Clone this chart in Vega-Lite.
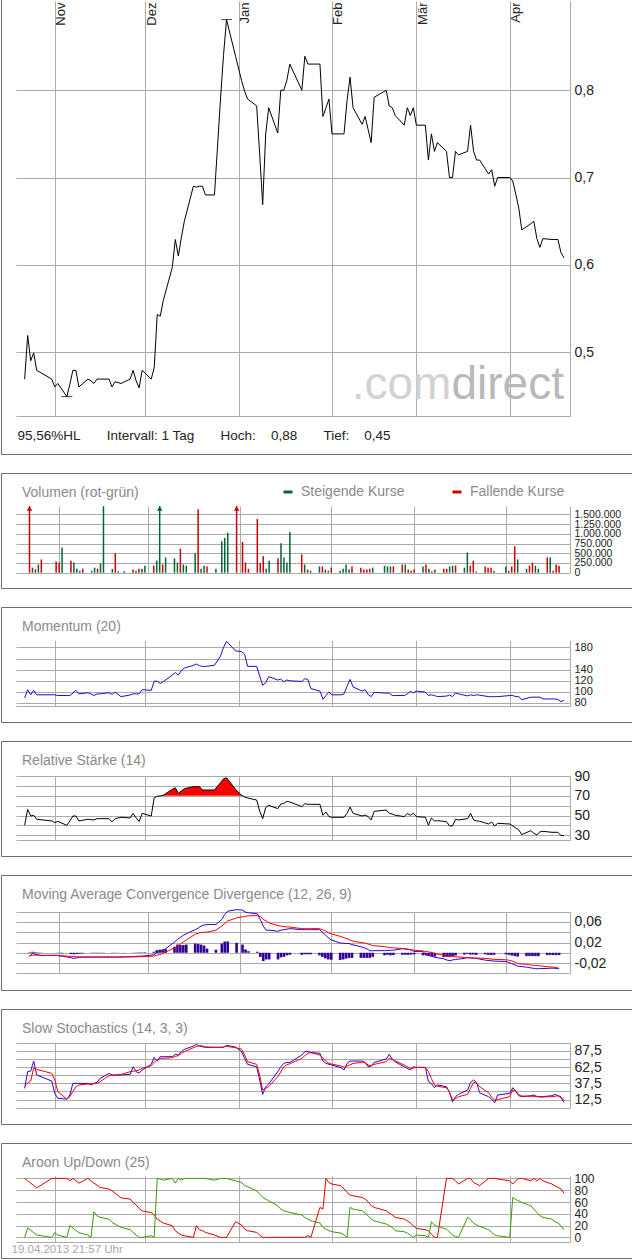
{
"$schema": "https://vega.github.io/schema/vega-lite/v6.json",
"padding": {"left": 0, "top": -2, "right": 0, "bottom": 0},
"background": "white",
"spacing": 19,
"bounds": "flush",
"resolve": {"scale": {"color": "independent"}, "legend": {"color": "independent"}},
"datasets": {
"hl": [{"d":"2012-11-05","p":0.449},{"d":"2012-12-28","p":0.881}],
"s": [
{"d":"2012-10-22","p":0.469,"v":2500000,"c":"dn","m":88.7,"r":40.1,"md":-0.0078,"sg":-0.005,"h":0.001,"k":29.7,"kd":33.8,"au":0,"ad":100},
{"d":"2012-10-23","p":0.519,"v":130000,"c":"up","m":103.6,"r":56.3,"md":-0.0013,"sg":-0.0049,"h":0.002,"k":55.4,"kd":38,"au":16,"ad":96},
{"d":"2012-10-24","p":0.49,"v":87000,"c":"dn","m":94.3,"r":49.5,"md":-0.003,"sg":-0.0048,"h":0.0012,"k":56.4,"kd":41,"au":12,"ad":92},
{"d":"2012-10-25","p":0.499,"v":210000,"c":"up","m":102.4,"r":50.2,"md":-0.004,"sg":-0.0047,"h":0.0008,"k":71.8,"kd":61.5,"au":8,"ad":88},
{"d":"2012-10-26","p":0.479,"v":340000,"c":"dn","m":94.3,"r":46.2,"md":-0.0055,"sg":-0.005,"h":-0.0005,"k":50.3,"kd":59,"au":4,"ad":84},
{"d":"2012-10-31","p":0.469,"v":290000,"c":"dn","m":94.3,"r":44.5,"md":-0.005,"sg":-0.0052,"h":0.0003,"k":41,"kd":52.8,"au":0,"ad":100},
{"d":"2012-11-01","p":0.46,"v":260000,"c":"dn","m":94.3,"r":42.8,"md":-0.006,"sg":-0.0055,"h":-0.0006,"k":22,"kd":42.6,"au":8,"ad":100},
{"d":"2012-11-02","p":0.464,"v":650000,"c":"up","m":93,"r":44,"md":-0.0065,"sg":-0.0058,"h":-0.0008,"k":14.4,"kd":24.6,"au":4,"ad":100},
{"d":"2012-11-05","p":0.449,"v":310000,"c":"dn","m":93,"r":40.1,"md":-0.0097,"sg":-0.007,"h":-0.0027,"k":13.3,"kd":13.3,"au":0,"ad":100},
{"d":"2012-11-06","p":0.463,"v":260000,"c":"up","m":93,"r":44.5,"md":-0.011,"sg":-0.0075,"h":-0.003,"k":19.5,"kd":16.9,"au":20,"ad":96},
{"d":"2012-11-07","p":0.479,"v":100000,"c":"up","m":97.4,"r":49.5,"md":-0.01,"sg":-0.0078,"h":-0.0025,"k":37.4,"kd":25,"au":16,"ad":100},
{"d":"2012-11-08","p":0.479,"v":50000,"c":"up","m":102.4,"r":49.5,"md":-0.009,"sg":-0.008,"h":-0.0018,"k":37.4,"kd":32.3,"au":12,"ad":96},
{"d":"2012-11-09","p":0.46,"v":100000,"c":"dn","m":96,"r":44.5,"md":-0.0085,"sg":-0.0082,"h":-0.0012,"k":37.4,"kd":35,"au":8,"ad":92},
{"d":"2012-11-12","p":0.469,"v":50000,"c":"up","m":98,"r":46.2,"md":-0.0084,"sg":-0.0082,"h":-0.0005,"k":37.4,"kd":36.4,"au":4,"ad":100},
{"d":"2012-11-13","p":0.467,"v":130000,"c":"up","m":96,"r":45.8,"md":-0.0084,"sg":-0.0082,"h":-0.0005,"k":35,"kd":36.8,"au":0,"ad":96},
{"d":"2012-11-14","p":0.464,"v":100000,"c":"dn","m":93,"r":45.5,"md":-0.0084,"sg":-0.0082,"h":-0.0008,"k":37.4,"kd":37,"au":43.5,"ad":92},
{"d":"2012-11-15","p":0.469,"v":235000,"c":"up","m":96,"r":46.8,"md":-0.0084,"sg":-0.0082,"h":-0.0005,"k":39,"kd":37.5,"au":36.7,"ad":88.7},
{"d":"2012-11-16","p":0.469,"v":1710000,"c":"up","m":96,"r":46.8,"md":-0.0084,"sg":-0.0082,"h":-0.0005,"k":45,"kd":40,"au":33.9,"ad":84.7},
{"d":"2012-11-19","p":0.469,"v":100000,"c":"up","m":98,"r":46.8,"md":-0.0084,"sg":-0.0082,"h":-0.0004,"k":52.8,"kd":49.2,"au":31,"ad":82},
{"d":"2012-11-20","p":0.46,"v":500000,"c":"dn","m":95,"r":43.5,"md":-0.0084,"sg":-0.0082,"h":-0.0004,"k":50.3,"kd":50,"au":25.4,"ad":79},
{"d":"2012-11-21","p":0.466,"v":35000,"c":"up","m":99.3,"r":46.8,"md":-0.0084,"sg":-0.0082,"h":-0.0003,"k":50.3,"kd":50,"au":22.6,"ad":75},
{"d":"2012-11-23","p":0.464,"v":35000,"c":"up","m":91,"r":48.2,"md":-0.008,"sg":-0.0081,"h":0.0002,"k":50.3,"kd":51,"au":17,"ad":67},
{"d":"2012-11-26","p":0.469,"v":80000,"c":"dn","m":94,"r":47.5,"md":-0.0075,"sg":-0.008,"h":0.0004,"k":51.3,"kd":55.4,"au":13,"ad":65},
{"d":"2012-11-27","p":0.479,"v":50000,"c":"up","m":96,"r":52.2,"md":-0.007,"sg":-0.0078,"h":0.0005,"k":63,"kd":56,"au":8.5,"ad":59},
{"d":"2012-11-28","p":0.467,"v":100000,"c":"dn","m":96,"r":47.5,"md":-0.0066,"sg":-0.0076,"h":0.0008,"k":55.4,"kd":57,"au":4,"ad":55},
{"d":"2012-11-29","p":0.459,"v":100000,"c":"up","m":96,"r":44,"md":-0.0065,"sg":-0.0074,"h":0.0008,"k":53.3,"kd":58,"au":0,"ad":49},
{"d":"2012-11-30","p":0.479,"v":180000,"c":"up","m":103.6,"r":52.2,"md":-0.006,"sg":-0.0072,"h":0.001,"k":58,"kd":60.5,"au":0,"ad":45},
{"d":"2012-12-03","p":0.469,"v":180000,"c":"dn","m":102.4,"r":49.5,"md":-0.004,"sg":-0.0065,"h":0.002,"k":66.7,"kd":64.6,"au":2.8,"ad":42},
{"d":"2012-12-04","p":0.482,"v":310000,"c":"up","m":119,"r":68,"md":0,"sg":-0.005,"h":0.005,"k":77.4,"kd":70,"au":0,"ad":37.9},
{"d":"2012-12-05","p":0.543,"v":2200000,"c":"up","m":119,"r":69.5,"md":0.0025,"sg":-0.0035,"h":0.006,"k":71.8,"kd":73.3,"au":100,"ad":31,"rh":70},
{"d":"2012-12-06","p":0.541,"v":210000,"c":"dn","m":114.8,"r":69.8,"md":0.0045,"sg":-0.0015,"h":0.0065,"k":78.5,"kd":75.9,"au":98.9,"ad":27.7,"rh":70},
{"d":"2012-12-07","p":0.559,"v":390000,"c":"up","m":118,"r":70.5,"md":0.0078,"sg":0.001,"h":0.007,"k":78.5,"kd":76,"au":97,"ad":24.3,"rh":70.5},
{"d":"2012-12-10","p":0.597,"v":370000,"c":"up","m":130,"r":76.5,"md":0.0208,"sg":0.0097,"h":0.0115,"k":78.5,"kd":76.9,"au":100,"ad":19.8,"rh":76.5},
{"d":"2012-12-11","p":0.629,"v":260000,"c":"up","m":134.6,"r":78.1,"md":0.026,"sg":0.013,"h":0.016,"k":82,"kd":79,"au":92,"ad":11.3,"rh":78.1},
{"d":"2012-12-12","p":0.61,"v":620000,"c":"dn","m":130,"r":72.4,"md":0.03,"sg":0.017,"h":0.015,"k":81,"kd":80,"au":100,"ad":7.3,"rh":72.4},
{"d":"2012-12-13","p":0.631,"v":210000,"c":"up","m":138.4,"r":74.8,"md":0.034,"sg":0.021,"h":0.015,"k":86.2,"kd":83.6,"au":97,"ad":4,"rh":74.8},
{"d":"2012-12-14","p":0.65,"v":180000,"c":"up","m":142.7,"r":77.1,"md":0.037,"sg":0.025,"h":0.016,"k":89.7,"kd":86.2,"au":100,"ad":2.8,"rh":77.1},
{"d":"2012-12-17","p":0.69,"v":500000,"c":"up","m":147.7,"r":79.2,"md":0.045,"sg":0.036,"h":0.018,"k":94.9,"kd":92.3,"au":100,"ad":0,"rh":79.2},
{"d":"2012-12-18","p":0.689,"v":1630000,"c":"dn","m":150,"r":79.2,"md":0.048,"sg":0.038,"h":0.017,"k":97.4,"kd":94,"au":100,"ad":19.8,"rh":79.2},
{"d":"2012-12-19","p":0.69,"v":100000,"c":"up","m":147,"r":79.2,"md":0.052,"sg":0.0395,"h":0.016,"k":94.9,"kd":95.4,"au":100,"ad":13,"rh":79.2},
{"d":"2012-12-20","p":0.69,"v":180000,"c":"up","m":145.8,"r":75.8,"md":0.054,"sg":0.04,"h":0.014,"k":93.8,"kd":95,"au":100,"ad":11.3,"rh":75.8},
{"d":"2012-12-21","p":0.68,"v":160000,"c":"dn","m":145.8,"r":75.8,"md":0.055,"sg":0.04,"h":0.008,"k":92.8,"kd":93.5,"au":100,"ad":8.5,"rh":75.8},
{"d":"2012-12-24","p":0.68,"v":100000,"c":"up","m":147.7,"r":75.8,"md":0.055,"sg":0.044,"h":0.006,"k":92.8,"kd":93,"au":97,"ad":4,"rh":75.8},
{"d":"2012-12-26","p":0.79,"v":810000,"c":"up","m":164.5,"r":83.2,"md":0.065,"sg":0.052,"h":0.018,"k":92.8,"kd":93,"au":100,"ad":0,"rh":83.2},
{"d":"2012-12-27","p":0.84,"v":890000,"c":"up","m":180,"r":87.2,"md":0.0746,"sg":0.057,"h":0.022,"k":92.8,"kd":93.5,"au":100,"ad":0,"rh":87.2},
{"d":"2012-12-28","p":0.881,"v":1030000,"c":"up","m":191,"r":88.2,"md":0.081,"sg":0.062,"h":0.022,"k":95.9,"kd":94.4,"au":100,"ad":0,"rh":88.2},
{"d":"2012-12-31","p":0.839,"v":2000000,"c":"dn","m":173.8,"r":76.5,"md":0.084,"sg":0.068,"h":0.0195,"k":93.3,"kd":92.3,"au":96,"ad":26.6,"rh":76.5},
{"d":"2013-01-02","p":0.811,"v":790000,"c":"dn","m":172.5,"r":70.4,"md":0.083,"sg":0.07,"h":0.016,"k":86.2,"kd":90.3,"au":93,"ad":21,"rh":70.4},
{"d":"2013-01-03","p":0.799,"v":260000,"c":"dn","m":167.6,"r":68.7,"md":0.079,"sg":0.071,"h":0.0065,"k":75.9,"kd":81,"au":88,"ad":14,"rh":70},
{"d":"2013-01-04","p":0.79,"v":100000,"c":"dn","m":145.8,"r":67.7,"md":0.078,"sg":0.072,"h":0.003,"k":66.7,"kd":70.8,"au":86,"ad":11.3},
{"d":"2013-01-07","p":0.782,"v":1380000,"c":"dn","m":145.8,"r":65.7,"md":0.076,"sg":0.0725,"h":0.002,"k":63,"kd":66.7,"au":79,"ad":8.5},
{"d":"2013-01-08","p":0.727,"v":245000,"c":"dn","m":128.4,"r":54.6,"md":0.065,"sg":0.071,"h":-0.008,"k":42.6,"kd":50,"au":73.4,"ad":4},
{"d":"2013-01-09","p":0.669,"v":420000,"c":"dn","m":111.7,"r":46.8,"md":0.052,"sg":0.065,"h":-0.016,"k":20.5,"kd":27.2,"au":67.8,"ad":0},
{"d":"2013-01-10","p":0.75,"v":100000,"c":"up","m":116,"r":58,"md":0.044,"sg":0.062,"h":-0.013,"k":32.3,"kd":29.7,"au":65,"ad":0},
{"d":"2013-01-11","p":0.78,"v":310000,"c":"up","m":127.2,"r":60.3,"md":0.044,"sg":0.058,"h":-0.013,"k":36.4,"kd":32.3,"au":62,"ad":0},
{"d":"2013-01-14","p":0.751,"v":370000,"c":"dn","m":121,"r":57,"md":0.042,"sg":0.053,"h":-0.013,"k":55.4,"kd":47.7,"au":53.7,"ad":0},
{"d":"2013-01-15","p":0.8,"v":760000,"c":"up","m":122.9,"r":61.6,"md":0.044,"sg":0.052,"h":-0.009,"k":63,"kd":55,"au":48,"ad":0},
{"d":"2013-01-16","p":0.8,"v":390000,"c":"up","m":118,"r":62.3,"md":0.045,"sg":0.051,"h":-0.008,"k":68.2,"kd":63,"au":45.2,"ad":0},
{"d":"2013-01-17","p":0.811,"v":260000,"c":"up","m":121,"r":64.3,"md":0.046,"sg":0.0505,"h":-0.005,"k":69.7,"kd":66,"au":43.5,"ad":0},
{"d":"2013-01-18","p":0.83,"v":1050000,"c":"up","m":119.7,"r":63.7,"md":0.047,"sg":0.05,"h":-0.004,"k":69.7,"kd":67.7,"au":42.4,"ad":0},
{"d":"2013-01-22","p":0.8,"v":470000,"c":"dn","m":118.5,"r":59,"md":0.045,"sg":0.047,"h":-0.004,"k":81,"kd":75.9,"au":37.9,"ad":0},
{"d":"2013-01-23","p":0.839,"v":210000,"c":"up","m":123.5,"r":62,"md":0.045,"sg":0.047,"h":-0.003,"k":86.2,"kd":80,"au":33.9,"ad":0},
{"d":"2013-01-24","p":0.83,"v":80000,"c":"dn","m":122,"r":61.3,"md":0.045,"sg":0.047,"h":-0.003,"k":86.2,"kd":83.6,"au":31,"ad":2.8},
{"d":"2013-01-25","p":0.83,"v":50000,"c":"up","m":105.5,"r":61.3,"md":0.045,"sg":0.047,"h":-0.003,"k":85.1,"kd":84.6,"au":28.2,"ad":0},
{"d":"2013-01-28","p":0.83,"v":160000,"c":"up","m":101,"r":61.3,"md":0.045,"sg":0.047,"h":-0.005,"k":83.6,"kd":81,"au":24.3,"ad":50.8},
{"d":"2013-01-29","p":0.77,"v":160000,"c":"dn","m":86.2,"r":50.2,"md":0.04,"sg":0.045,"h":-0.008,"k":71.8,"kd":75.9,"au":17,"ad":48},
{"d":"2013-01-30","p":0.78,"v":80000,"c":"up","m":93,"r":53.6,"md":0.035,"sg":0.043,"h":-0.011,"k":68.2,"kd":72,"au":14,"ad":100},
{"d":"2013-01-31","p":0.79,"v":50000,"c":"up","m":99.3,"r":48.9,"md":0.029,"sg":0.039,"h":-0.013,"k":66.7,"kd":68.2,"au":11.3,"ad":93},
{"d":"2013-02-01","p":0.75,"v":130000,"c":"dn","m":94.3,"r":48.2,"md":0.025,"sg":0.037,"h":-0.0135,"k":65.6,"kd":67,"au":9.6,"ad":90.4},
{"d":"2013-02-04","p":0.75,"v":50000,"c":"up","m":94.3,"r":48.2,"md":0.019,"sg":0.032,"h":-0.014,"k":61.5,"kd":64.1,"au":7.3,"ad":87.6},
{"d":"2013-02-05","p":0.75,"v":100000,"c":"up","m":96,"r":48.2,"md":0.0185,"sg":0.03,"h":-0.013,"k":58,"kd":62,"au":4,"ad":82},
{"d":"2013-02-06","p":0.788,"v":210000,"c":"up","m":109.8,"r":52.2,"md":0.0182,"sg":0.028,"h":-0.0115,"k":68.2,"kd":64,"au":0,"ad":76.3},
{"d":"2013-02-07","p":0.815,"v":80000,"c":"up","m":122.2,"r":58.6,"md":0.018,"sg":0.026,"h":-0.01,"k":71.8,"kd":66,"au":50.8,"ad":71.8},
{"d":"2013-02-08","p":0.78,"v":160000,"c":"dn","m":108.6,"r":52.2,"md":0.016,"sg":0.023,"h":-0.01,"k":71.8,"kd":68,"au":48,"ad":70.6},
{"d":"2013-02-11","p":0.761,"v":130000,"c":"dn","m":101,"r":49.5,"md":0.0117,"sg":0.02,"h":-0.01,"k":71.8,"kd":70,"au":45.2,"ad":67.8},
{"d":"2013-02-12","p":0.77,"v":80000,"c":"dn","m":103.6,"r":50.5,"md":0.01,"sg":0.019,"h":-0.01,"k":69.7,"kd":69.7,"au":41.2,"ad":65},
{"d":"2013-02-13","p":0.755,"v":80000,"c":"dn","m":95,"r":48.9,"md":0.0078,"sg":0.018,"h":-0.01,"k":63,"kd":65.6,"au":36.7,"ad":60.5},
{"d":"2013-02-14","p":0.74,"v":100000,"c":"dn","m":91,"r":45.5,"md":0.0039,"sg":0.016,"h":-0.01,"k":64,"kd":64.5,"au":31,"ad":53.7},
{"d":"2013-02-15","p":0.792,"v":130000,"c":"up","m":98.6,"r":54.2,"md":0.004,"sg":0.014,"h":-0.008,"k":69.7,"kd":66.7,"au":28.2,"ad":50.8},
{"d":"2013-02-19","p":0.8,"v":180000,"c":"up","m":97.4,"r":55.6,"md":0.0042,"sg":0.012,"h":-0.005,"k":74.9,"kd":70.8,"au":22.6,"ad":45.2},
{"d":"2013-02-20","p":0.782,"v":160000,"c":"up","m":97.4,"r":52.2,"md":0.0045,"sg":0.011,"h":-0.004,"k":82,"kd":75.9,"au":19.8,"ad":41.2},
{"d":"2013-02-21","p":0.78,"v":160000,"c":"up","m":93,"r":51.5,"md":0.0048,"sg":0.01,"h":-0.005,"k":74.9,"kd":74,"au":17,"ad":37.9},
{"d":"2013-02-22","p":0.771,"v":160000,"c":"dn","m":93,"r":50.2,"md":0.005,"sg":0.0095,"h":-0.0045,"k":70.5,"kd":72,"au":11.3,"ad":33.9},
{"d":"2013-02-25","p":0.76,"v":210000,"c":"dn","m":93,"r":48.9,"md":0.0078,"sg":0.0084,"h":-0.004,"k":63,"kd":65.6,"au":9.6,"ad":31},
{"d":"2013-02-26","p":0.78,"v":210000,"c":"up","m":96,"r":52.2,"md":0.0076,"sg":0.0075,"h":-0.004,"k":60.5,"kd":63,"au":7.3,"ad":28.2},
{"d":"2013-02-27","p":0.771,"v":80000,"c":"dn","m":100.5,"r":50.2,"md":0.007,"sg":0.0065,"h":-0.004,"k":58,"kd":60.5,"au":4,"ad":24.3},
{"d":"2013-02-28","p":0.78,"v":50000,"c":"dn","m":98,"r":52.2,"md":0.005,"sg":0.0058,"h":-0.0035,"k":63,"kd":61,"au":0,"ad":19.8},
{"d":"2013-03-01","p":0.76,"v":80000,"c":"dn","m":101,"r":48.9,"md":0.0026,"sg":0.005,"h":-0.003,"k":62,"kd":62,"au":4,"ad":15.3},
{"d":"2013-03-04","p":0.76,"v":160000,"c":"up","m":99.3,"r":48.2,"md":0.0026,"sg":0.0035,"h":-0.005,"k":62,"kd":62,"au":2.8,"ad":13},
{"d":"2013-03-05","p":0.72,"v":210000,"c":"dn","m":93,"r":40.1,"md":-0.004,"sg":0.0026,"h":-0.005,"k":40,"kd":55.4,"au":0,"ad":11.3},
{"d":"2013-03-06","p":0.75,"v":100000,"c":"up","m":94.3,"r":47.5,"md":-0.005,"sg":0.0015,"h":-0.0065,"k":37,"kd":45,"au":26.6,"ad":5.6},
{"d":"2013-03-07","p":0.73,"v":30000,"c":"dn","m":93,"r":44.5,"md":-0.0065,"sg":0.0005,"h":-0.0075,"k":30.8,"kd":34.9,"au":21,"ad":0},
{"d":"2013-03-08","p":0.74,"v":80000,"c":"up","m":91,"r":44.8,"md":-0.009,"sg":-0.0013,"h":-0.0075,"k":34.9,"kd":33,"au":18.6,"ad":0},
{"d":"2013-03-11","p":0.73,"v":100000,"c":"dn","m":92,"r":43.8,"md":-0.0117,"sg":-0.005,"h":-0.0085,"k":32.3,"kd":30.8,"au":14,"ad":100},
{"d":"2013-03-12","p":0.7,"v":100000,"c":"dn","m":94,"r":39.4,"md":-0.014,"sg":-0.006,"h":-0.008,"k":23.6,"kd":24.6,"au":9.6,"ad":100},
{"d":"2013-03-13","p":0.7,"v":160000,"c":"up","m":91,"r":39.4,"md":-0.0156,"sg":-0.007,"h":-0.008,"k":9.2,"kd":11.8,"au":4,"ad":100},
{"d":"2013-03-14","p":0.73,"v":180000,"c":"up","m":97.4,"r":46.2,"md":-0.014,"sg":-0.0075,"h":-0.0065,"k":16.9,"kd":14,"au":1.7,"ad":96},
{"d":"2013-03-15","p":0.726,"v":180000,"c":"dn","m":96,"r":45.5,"md":-0.013,"sg":-0.0078,"h":-0.0055,"k":20.5,"kd":16.9,"au":0,"ad":90.4},
{"d":"2013-03-18","p":0.73,"v":130000,"c":"up","m":92.4,"r":46.8,"md":-0.011,"sg":-0.009,"h":-0.0035,"k":27.2,"kd":20.5,"au":33.9,"ad":100},
{"d":"2013-03-19","p":0.76,"v":520000,"c":"up","m":94.3,"r":52.2,"md":-0.0097,"sg":-0.0095,"h":-0.002,"k":39,"kd":30,"au":29.9,"ad":100},
{"d":"2013-03-20","p":0.73,"v":180000,"c":"dn","m":93,"r":45.5,"md":-0.01,"sg":-0.0098,"h":-0.0035,"k":42.6,"kd":39,"au":24.3,"ad":93},
{"d":"2013-03-21","p":0.72,"v":310000,"c":"dn","m":94.3,"r":44.5,"md":-0.0105,"sg":-0.01,"h":-0.0035,"k":39,"kd":38,"au":21,"ad":90.4},
{"d":"2013-03-22","p":0.72,"v":30000,"c":"up","m":93.6,"r":44.2,"md":-0.011,"sg":-0.0102,"h":-0.004,"k":23,"kd":32.3,"au":18.6,"ad":87.6},
{"d":"2013-03-25","p":0.704,"v":160000,"c":"dn","m":91,"r":41.4,"md":-0.0143,"sg":-0.011,"h":-0.003,"k":16.9,"kd":23,"au":13,"ad":100},
{"d":"2013-03-26","p":0.709,"v":130000,"c":"dn","m":91,"r":43.5,"md":-0.015,"sg":-0.0115,"h":-0.004,"k":13.3,"kd":16,"au":8.5,"ad":100},
{"d":"2013-03-27","p":0.69,"v":130000,"c":"dn","m":91,"r":39.4,"md":-0.0155,"sg":-0.0122,"h":-0.0045,"k":7.7,"kd":11.8,"au":4,"ad":100},
{"d":"2013-03-28","p":0.7,"v":50000,"c":"up","m":91,"r":42.1,"md":-0.0162,"sg":-0.0128,"h":-0.004,"k":19.5,"kd":12.5,"au":2.8,"ad":98.9},
{"d":"2013-04-01","p":0.7,"v":160000,"c":"up","m":93,"r":41.4,"md":-0.017,"sg":-0.0136,"h":-0.003,"k":22,"kd":16.9,"au":0,"ad":96},
{"d":"2013-04-02","p":0.696,"v":50000,"c":"dn","m":93,"r":39.4,"md":-0.019,"sg":-0.0145,"h":-0.004,"k":30.8,"kd":27.2,"au":67.8,"ad":90.4},
{"d":"2013-04-03","p":0.681,"v":160000,"c":"dn","m":91,"r":37.5,"md":-0.021,"sg":-0.016,"h":-0.0055,"k":25,"kd":26,"au":64,"ad":96},
{"d":"2013-04-04","p":0.665,"v":680000,"c":"dn","m":91,"r":35.4,"md":-0.0235,"sg":-0.018,"h":-0.0065,"k":18.5,"kd":20,"au":62,"ad":100},
{"d":"2013-04-05","p":0.64,"v":340000,"c":"up","m":85.6,"r":30.7,"md":-0.026,"sg":-0.021,"h":-0.0075,"k":16.9,"kd":18,"au":59.3,"ad":100},
{"d":"2013-04-08","p":0.647,"v":100000,"c":"up","m":90,"r":34.7,"md":-0.028,"sg":-0.0227,"h":-0.0065,"k":18.5,"kd":17.5,"au":53.7,"ad":96},
{"d":"2013-04-09","p":0.65,"v":180000,"c":"dn","m":90,"r":32,"md":-0.029,"sg":-0.0235,"h":-0.0065,"k":19.5,"kd":17.5,"au":48,"ad":100},
{"d":"2013-04-10","p":0.63,"v":260000,"c":"dn","m":90,"r":30.5,"md":-0.03,"sg":-0.0242,"h":-0.0065,"k":17.5,"kd":17,"au":42.4,"ad":96},
{"d":"2013-04-11","p":0.62,"v":180000,"c":"up","m":90,"r":33.4,"md":-0.031,"sg":-0.0247,"h":-0.0065,"k":17,"kd":16.5,"au":36.7,"ad":100},
{"d":"2013-04-12","p":0.63,"v":100000,"c":"up","m":86.8,"r":34,"md":-0.031,"sg":-0.0252,"h":-0.0065,"k":17,"kd":16.5,"au":33.9,"ad":96},
{"d":"2013-04-15","p":0.629,"v":390000,"c":"dn","m":86.8,"r":33,"md":-0.0305,"sg":-0.027,"h":-0.0045,"k":18.5,"kd":17,"au":31,"ad":90.4},
{"d":"2013-04-16","p":0.629,"v":390000,"c":"up","m":86.8,"r":33,"md":-0.03,"sg":-0.0276,"h":-0.0045,"k":20.5,"kd":17.5,"au":26.6,"ad":87.6},
{"d":"2013-04-17","p":0.629,"v":50000,"c":"dn","m":86,"r":33,"md":-0.03,"sg":-0.028,"h":-0.0045,"k":18.5,"kd":18.5,"au":24.3,"ad":84.7,"rl":30},
{"d":"2013-04-18","p":0.614,"v":210000,"c":"dn","m":81.9,"r":29.8,"md":-0.0305,"sg":-0.0286,"h":-0.0045,"k":15.4,"kd":17,"au":19.8,"ad":82,"rl":29.8},
{"d":"2013-04-19","p":0.608,"v":180000,"c":"dn","m":84.3,"r":29.6,"md":-0.031,"sg":-0.0305,"h":-0.0045,"k":8.2,"kd":10.8,"au":13,"ad":75,"rl":29.6}
]
},
"config": {
"view": {"stroke": "#6e6e6e", "strokeWidth": 1},
"font": "Liberation Sans",
"axis": {"gridColor": "#ababab", "gridWidth": 1, "domainColor": "#ababab", "labelColor": "#222222", "labelFontSize": 14, "labelFont": "Liberation Sans", "tickSize": 0},
"title": {"font": "Liberation Sans", "fontSize": 14, "fontWeight": "normal", "color": "#8a8a8a", "anchor": "start", "frame": "group", "offset": 0, "dx": 21, "dy": 25.5, "baseline": "middle"}
},
"vconcat": [
{
"width": 631, "height": 455,
"data": {"name": "s"},
"layer": [
{"mark": {"type": "line", "color": "#000000", "strokeWidth": 1},
 "encoding": {
 "x": {"field": "d", "type": "temporal",
  "scale": {"type": "utc", "domain": [{"year":2012,"month":10,"date":19,"hours":3,"utc":true},{"year":2013,"month":4,"date":21,"utc":true}], "range": [15, 569], "nice": false},
  "axis": {"orient": "top", "values": [{"year":2012,"month":11,"date":1,"utc":true},{"year":2012,"month":12,"date":1,"utc":true},{"year":2013,"month":1,"date":1,"utc":true},{"year":2013,"month":2,"date":1,"utc":true},{"year":2013,"month":3,"date":1,"utc":true},{"year":2013,"month":4,"date":1,"utc":true}],
   "grid": true, "ticks": false, "domain": false, "labelAngle": 270, "labelAlign": "right", "labelBaseline": "top", "labelPadding": -3, "labelFontSize": 13, "labelOverlap": false, "labelBound": false, "labelFlush": false,
   "labelExpr": "['Jan','Feb','Mär','Apr','Mai','Jun','Jul','Aug','Sep','Okt','Nov','Dez'][utcmonth(datum.value)]",
   "title": "95,56%HL\u00a0\u00a0\u00a0\u00a0\u00a0\u00a0\u00a0Intervall: 1 Tag\u00a0\u00a0\u00a0\u00a0\u00a0\u00a0\u00a0Hoch:\u00a0\u00a0\u00a0\u00a00,88\u00a0\u00a0\u00a0\u00a0\u00a0\u00a0\u00a0Tief:\u00a0\u00a0\u00a0\u00a00,45",
   "titleX": 16, "titleY": 436.5, "titleAlign": "left", "titleAnchor": "start", "titleBaseline": "middle", "titleAngle": 0, "titleFontSize": 13.5, "titleFontWeight": "normal", "titleColor": "#222222", "titleFont": "Liberation Sans"}},
 "y": {"field": "p", "type": "quantitative",
  "scale": {"domain": [0.4267, 0.9023], "range": [417, 2], "nice": false, "zero": false},
  "axis": {"orient": "left", "offset": -569, "values": [0.4267, 0.5, 0.6, 0.7, 0.8], "grid": true, "domain": true, "ticks": false, "labelPadding": -4, "labelAlign": "left", "labelBaseline": "middle", "labelOverlap": false, "labelBound": false,
   "labelExpr": "datum.value < 0.45 ? '' : replace(format(datum.value, '.1f'), '.', ',')", "title": null}}
 }},
{"data": {"name": "hl"},
 "mark": {"type": "tick", "orient": "horizontal", "size": 11, "thickness": 1, "color": "#000000"},
 "encoding": {
 "x": {"field": "d", "type": "temporal"},
 "y": {"field": "p", "type": "quantitative"}
 }},
{"data": {"values": [{}]},
 "mark": {"type": "text", "text": ".com", "align": "right", "baseline": "alphabetic", "fontSize": 46, "color": "#d2d2d2"},
 "encoding": {
 "x": {"datum": {"year":2013,"month":3,"date":12,"hours":15,"utc":true}, "type": "temporal"},
 "y": {"datum": 0.4462, "type": "quantitative"}
 }},
{"data": {"values": [{}]},
 "mark": {"type": "text", "text": "direct", "align": "right", "baseline": "alphabetic", "fontSize": 46, "color": "#b9b9b9"},
 "encoding": {
 "x": {"datum": {"year":2013,"month":4,"date":19,"utc":true}, "type": "temporal"},
 "y": {"datum": 0.4462, "type": "quantitative"}
 }}
]
},
{
"width": 631, "height": 115,
"data": {"name": "s"},
"title": {"text": "Volumen (rot-grün)", "offset": -1},
"layer": [
{"mark": {"type": "bar", "width": 1.5},
 "encoding": {
 "x": {"field": "d", "type": "temporal",
  "scale": {"type": "utc", "domain": [{"year":2012,"month":10,"date":19,"hours":3,"utc":true},{"year":2013,"month":4,"date":21,"utc":true}], "range": [15, 569], "nice": false},
  "axis": {"orient": "top", "values": [{"year":2012,"month":11,"date":1,"utc":true},{"year":2012,"month":12,"date":1,"utc":true},{"year":2013,"month":1,"date":1,"utc":true},{"year":2013,"month":2,"date":1,"utc":true},{"year":2013,"month":3,"date":1,"utc":true},{"year":2013,"month":4,"date":1,"utc":true}], "grid": true, "labels": false, "ticks": false, "domain": false, "title": null}},
 "y": {"field": "v", "type": "quantitative",
  "scale": {"domain": [0, 1716000], "range": [99.7, 33], "clamp": true, "nice": false, "zero": false},
  "axis": {"orient": "left", "offset": -569, "values": [0, 250000, 500000, 750000, 1000000, 1250000, 1500000], "grid": true, "domain": true, "ticks": false, "labelPadding": -4, "labelAlign": "left", "labelBaseline": "middle", "labelFontSize": 10.5, "labelOverlap": false, "labelBound": false,
   "labelExpr": "replace(format(datum.value, ','), regexp(',', 'g'), '.')", "title": null}},
 "y2": {"datum": 0},
 "color": {"field": "c", "type": "nominal", "scale": {"domain": ["up", "dn"], "range": ["#006633", "#cc0000"]},
  "legend": {"title": null, "orient": "none", "legendX": 280, "legendY": 12, "direction": "horizontal", "symbolType": "M-1,-0.33H1V0.33H-1Z", "symbolSize": 81, "symbolStrokeWidth": 0,
   "labelExpr": "datum.value == 'up' ? 'Steigende Kurse' : 'Fallende Kurse'", "labelFontSize": 14, "labelColor": "#8a8a8a", "labelFont": "Liberation Sans", "columnPadding": 45, "labelOffset": 6, "padding": 0}}
 }},
{"transform": [{"filter": "datum.v > 1716000"}],
 "mark": {"type": "point", "shape": "triangle-up", "filled": true, "size": 30, "yOffset": 2.5, "opacity": 1},
 "encoding": {
 "x": {"field": "d", "type": "temporal",
  "scale": {"type": "utc", "domain": [{"year":2012,"month":10,"date":19,"hours":3,"utc":true},{"year":2013,"month":4,"date":21,"utc":true}], "range": [15, 569], "nice": false},
  "axis": {"orient": "top", "values": [{"year":2012,"month":11,"date":1,"utc":true},{"year":2012,"month":12,"date":1,"utc":true},{"year":2013,"month":1,"date":1,"utc":true},{"year":2013,"month":2,"date":1,"utc":true},{"year":2013,"month":3,"date":1,"utc":true},{"year":2013,"month":4,"date":1,"utc":true}], "grid": true, "labels": false, "ticks": false, "domain": false, "title": null}},
 "y": {"field": "v", "type": "quantitative",
  "scale": {"domain": [0, 1716000], "range": [99.7, 33], "clamp": true, "nice": false, "zero": false},
  "axis": {"orient": "left", "offset": -569, "values": [0, 250000, 500000, 750000, 1000000, 1250000, 1500000], "grid": true, "domain": true, "ticks": false, "labelPadding": -4, "labelAlign": "left", "labelBaseline": "middle", "labelFontSize": 10.5, "labelOverlap": false, "labelBound": false,
   "labelExpr": "replace(format(datum.value, ','), regexp(',', 'g'), '.')", "title": null}},
 "color": {"field": "c", "type": "nominal"}
 }}
]
},
{
"width": 631, "height": 115,
"data": {"name": "s"},
"title": {"text": "Momentum (20)", "offset": -1},
"layer": [
{"mark": {"type": "line", "color": "#3300cc", "strokeWidth": 1},
 "encoding": {
 "x": {"field": "d", "type": "temporal",
  "scale": {"type": "utc", "domain": [{"year":2012,"month":10,"date":19,"hours":3,"utc":true},{"year":2013,"month":4,"date":21,"utc":true}], "range": [15, 569], "nice": false},
  "axis": {"orient": "top", "values": [{"year":2012,"month":11,"date":1,"utc":true},{"year":2012,"month":12,"date":1,"utc":true},{"year":2013,"month":1,"date":1,"utc":true},{"year":2013,"month":2,"date":1,"utc":true},{"year":2013,"month":3,"date":1,"utc":true},{"year":2013,"month":4,"date":1,"utc":true}], "grid": true, "labels": false, "ticks": false, "domain": false, "title": null}},
 "y": {"field": "m", "type": "quantitative",
  "scale": {"domain": [73.5, 193], "range": [99.3, 33.3], "nice": false, "zero": false},
  "axis": {"orient": "left", "offset": -569, "values": [73.5, 80, 100, 120, 140, 160, 180], "grid": true, "domain": true, "ticks": false, "labelPadding": -4, "labelAlign": "left", "labelBaseline": "middle", "labelFontSize": 11, "labelOverlap": false, "labelBound": false,
   "labelExpr": "indexof([80,100,120,140,180], datum.value) >= 0 ? format(datum.value, 'd') : ''", "title": null}}
 }}
]
},
{
"width": 631, "height": 115,
"data": {"name": "s"},
"title": {"text": "Relative Stärke (14)", "offset": -1},
"layer": [
{"mark": {"type": "area", "color": "#ff0000", "opacity": 1},
 "encoding": {
 "x": {"field": "d", "type": "temporal",
  "scale": {"type": "utc", "domain": [{"year":2012,"month":10,"date":19,"hours":3,"utc":true},{"year":2013,"month":4,"date":21,"utc":true}], "range": [15, 569], "nice": false},
  "axis": {"orient": "top", "values": [{"year":2012,"month":11,"date":1,"utc":true},{"year":2012,"month":12,"date":1,"utc":true},{"year":2013,"month":1,"date":1,"utc":true},{"year":2013,"month":2,"date":1,"utc":true},{"year":2013,"month":3,"date":1,"utc":true},{"year":2013,"month":4,"date":1,"utc":true}], "grid": true, "labels": false, "ticks": false, "domain": false, "title": null}},
 "y": {"field": "rh", "type": "quantitative",
  "scale": {"domain": [24.9, 90], "range": [99.3, 35], "nice": false, "zero": false},
  "axis": {"orient": "left", "offset": -569, "values": [24.9, 30, 40, 50, 60, 70, 80, 90], "grid": true, "domain": true, "ticks": false, "labelPadding": -4, "labelAlign": "left", "labelBaseline": "middle", "labelOverlap": false, "labelBound": false,
   "labelExpr": "indexof([30,50,70,90], datum.value) >= 0 ? format(datum.value, 'd') : ''", "title": null}},
 "y2": {"datum": 70}
 }},
{"mark": {"type": "area", "color": "#00aa00", "opacity": 1},
 "encoding": {
 "x": {"field": "d", "type": "temporal",
  "scale": {"type": "utc", "domain": [{"year":2012,"month":10,"date":19,"hours":3,"utc":true},{"year":2013,"month":4,"date":21,"utc":true}], "range": [15, 569], "nice": false},
  "axis": {"orient": "top", "values": [{"year":2012,"month":11,"date":1,"utc":true},{"year":2012,"month":12,"date":1,"utc":true},{"year":2013,"month":1,"date":1,"utc":true},{"year":2013,"month":2,"date":1,"utc":true},{"year":2013,"month":3,"date":1,"utc":true},{"year":2013,"month":4,"date":1,"utc":true}], "grid": true, "labels": false, "ticks": false, "domain": false, "title": null}},
 "y": {"field": "rl", "type": "quantitative",
  "scale": {"domain": [24.9, 90], "range": [99.3, 35], "nice": false, "zero": false},
  "axis": {"orient": "left", "offset": -569, "values": [24.9, 30, 40, 50, 60, 70, 80, 90], "grid": true, "domain": true, "ticks": false, "labelPadding": -4, "labelAlign": "left", "labelBaseline": "middle", "labelOverlap": false, "labelBound": false,
   "labelExpr": "indexof([30,50,70,90], datum.value) >= 0 ? format(datum.value, 'd') : ''", "title": null}},
 "y2": {"datum": 30}
 }},
{"mark": {"type": "line", "color": "#000000", "strokeWidth": 1},
 "encoding": {
 "x": {"field": "d", "type": "temporal",
  "scale": {"type": "utc", "domain": [{"year":2012,"month":10,"date":19,"hours":3,"utc":true},{"year":2013,"month":4,"date":21,"utc":true}], "range": [15, 569], "nice": false},
  "axis": {"orient": "top", "values": [{"year":2012,"month":11,"date":1,"utc":true},{"year":2012,"month":12,"date":1,"utc":true},{"year":2013,"month":1,"date":1,"utc":true},{"year":2013,"month":2,"date":1,"utc":true},{"year":2013,"month":3,"date":1,"utc":true},{"year":2013,"month":4,"date":1,"utc":true}], "grid": true, "labels": false, "ticks": false, "domain": false, "title": null}},
 "y": {"field": "r", "type": "quantitative",
  "scale": {"domain": [24.9, 90], "range": [99.3, 35], "nice": false, "zero": false},
  "axis": {"orient": "left", "offset": -569, "values": [24.9, 30, 40, 50, 60, 70, 80, 90], "grid": true, "domain": true, "ticks": false, "labelPadding": -4, "labelAlign": "left", "labelBaseline": "middle", "labelOverlap": false, "labelBound": false,
   "labelExpr": "indexof([30,50,70,90], datum.value) >= 0 ? format(datum.value, 'd') : ''", "title": null}}
 }}
]
},
{
"width": 631, "height": 115,
"data": {"name": "s"},
"title": {"text": "Moving Average Convergence Divergence (12, 26, 9)", "offset": -1},
"layer": [
{"mark": {"type": "bar", "width": 2.6, "color": "#330099"},
 "encoding": {
 "x": {"field": "d", "type": "temporal",
  "scale": {"type": "utc", "domain": [{"year":2012,"month":10,"date":19,"hours":3,"utc":true},{"year":2013,"month":4,"date":21,"utc":true}], "range": [15, 569], "nice": false},
  "axis": {"orient": "top", "values": [{"year":2012,"month":11,"date":1,"utc":true},{"year":2012,"month":12,"date":1,"utc":true},{"year":2013,"month":1,"date":1,"utc":true},{"year":2013,"month":2,"date":1,"utc":true},{"year":2013,"month":3,"date":1,"utc":true},{"year":2013,"month":4,"date":1,"utc":true}], "grid": true, "labels": false, "ticks": false, "domain": false, "title": null}},
 "y": {"field": "h", "type": "quantitative",
  "scale": {"domain": [-0.04, 0.08], "range": [98.3, 36.7], "nice": false, "zero": false},
  "axis": {"orient": "left", "offset": -569, "values": [-0.04, -0.02, 0, 0.02, 0.04, 0.06, 0.08], "grid": true, "domain": true, "ticks": false, "labelPadding": -4, "labelAlign": "left", "labelBaseline": "middle", "labelOverlap": false, "labelBound": false,
   "labelExpr": "indexof([0.06,0.02,-0.02], datum.value) >= 0 ? (datum.value < 0 ? '-' : '') + replace(format(abs(datum.value), '.2f'), '.', ',') : ''", "title": null}},
 "y2": {"datum": 0}
 }},
{"mark": {"type": "line", "color": "#3300cc", "strokeWidth": 1},
 "encoding": {
 "x": {"field": "d", "type": "temporal",
  "scale": {"type": "utc", "domain": [{"year":2012,"month":10,"date":19,"hours":3,"utc":true},{"year":2013,"month":4,"date":21,"utc":true}], "range": [15, 569], "nice": false},
  "axis": {"orient": "top", "values": [{"year":2012,"month":11,"date":1,"utc":true},{"year":2012,"month":12,"date":1,"utc":true},{"year":2013,"month":1,"date":1,"utc":true},{"year":2013,"month":2,"date":1,"utc":true},{"year":2013,"month":3,"date":1,"utc":true},{"year":2013,"month":4,"date":1,"utc":true}], "grid": true, "labels": false, "ticks": false, "domain": false, "title": null}},
 "y": {"field": "md", "type": "quantitative",
  "scale": {"domain": [-0.04, 0.08], "range": [98.3, 36.7], "nice": false, "zero": false},
  "axis": {"orient": "left", "offset": -569, "values": [-0.04, -0.02, 0, 0.02, 0.04, 0.06, 0.08], "grid": true, "domain": true, "ticks": false, "labelPadding": -4, "labelAlign": "left", "labelBaseline": "middle", "labelOverlap": false, "labelBound": false,
   "labelExpr": "indexof([0.06,0.02,-0.02], datum.value) >= 0 ? (datum.value < 0 ? '-' : '') + replace(format(abs(datum.value), '.2f'), '.', ',') : ''", "title": null}}
 }},
{"mark": {"type": "line", "color": "#ff0000", "strokeWidth": 1},
 "encoding": {
 "x": {"field": "d", "type": "temporal",
  "scale": {"type": "utc", "domain": [{"year":2012,"month":10,"date":19,"hours":3,"utc":true},{"year":2013,"month":4,"date":21,"utc":true}], "range": [15, 569], "nice": false},
  "axis": {"orient": "top", "values": [{"year":2012,"month":11,"date":1,"utc":true},{"year":2012,"month":12,"date":1,"utc":true},{"year":2013,"month":1,"date":1,"utc":true},{"year":2013,"month":2,"date":1,"utc":true},{"year":2013,"month":3,"date":1,"utc":true},{"year":2013,"month":4,"date":1,"utc":true}], "grid": true, "labels": false, "ticks": false, "domain": false, "title": null}},
 "y": {"field": "sg", "type": "quantitative",
  "scale": {"domain": [-0.04, 0.08], "range": [98.3, 36.7], "nice": false, "zero": false},
  "axis": {"orient": "left", "offset": -569, "values": [-0.04, -0.02, 0, 0.02, 0.04, 0.06, 0.08], "grid": true, "domain": true, "ticks": false, "labelPadding": -4, "labelAlign": "left", "labelBaseline": "middle", "labelOverlap": false, "labelBound": false,
   "labelExpr": "indexof([0.06,0.02,-0.02], datum.value) >= 0 ? (datum.value < 0 ? '-' : '') + replace(format(abs(datum.value), '.2f'), '.', ',') : ''", "title": null}}
 }}
]
},
{
"width": 631, "height": 115,
"data": {"name": "s"},
"title": {"text": "Slow Stochastics (14, 3, 3)", "offset": -1},
"layer": [
{"mark": {"type": "line", "color": "#3300cc", "strokeWidth": 1},
 "encoding": {
 "x": {"field": "d", "type": "temporal",
  "scale": {"type": "utc", "domain": [{"year":2012,"month":10,"date":19,"hours":3,"utc":true},{"year":2013,"month":4,"date":21,"utc":true}], "range": [15, 569], "nice": false},
  "axis": {"orient": "top", "values": [{"year":2012,"month":11,"date":1,"utc":true},{"year":2012,"month":12,"date":1,"utc":true},{"year":2013,"month":1,"date":1,"utc":true},{"year":2013,"month":2,"date":1,"utc":true},{"year":2013,"month":3,"date":1,"utc":true},{"year":2013,"month":4,"date":1,"utc":true}], "grid": true, "labels": false, "ticks": false, "domain": false, "title": null}},
 "y": {"field": "k", "type": "quantitative",
  "scale": {"domain": [0, 100], "range": [98.7, 33.7], "nice": false, "zero": false},
  "axis": {"orient": "left", "offset": -569, "values": [0, 12.5, 25, 37.5, 50, 62.5, 75, 87.5, 100], "grid": true, "domain": true, "ticks": false, "labelPadding": -4, "labelAlign": "left", "labelBaseline": "middle", "labelOverlap": false, "labelBound": false,
   "labelExpr": "indexof([12.5,37.5,62.5,87.5], datum.value) >= 0 ? replace(format(datum.value, '.1f'), '.', ',') : ''", "title": null}}
 }},
{"mark": {"type": "line", "color": "#ff0000", "strokeWidth": 1},
 "encoding": {
 "x": {"field": "d", "type": "temporal",
  "scale": {"type": "utc", "domain": [{"year":2012,"month":10,"date":19,"hours":3,"utc":true},{"year":2013,"month":4,"date":21,"utc":true}], "range": [15, 569], "nice": false},
  "axis": {"orient": "top", "values": [{"year":2012,"month":11,"date":1,"utc":true},{"year":2012,"month":12,"date":1,"utc":true},{"year":2013,"month":1,"date":1,"utc":true},{"year":2013,"month":2,"date":1,"utc":true},{"year":2013,"month":3,"date":1,"utc":true},{"year":2013,"month":4,"date":1,"utc":true}], "grid": true, "labels": false, "ticks": false, "domain": false, "title": null}},
 "y": {"field": "kd", "type": "quantitative",
  "scale": {"domain": [0, 100], "range": [98.7, 33.7], "nice": false, "zero": false},
  "axis": {"orient": "left", "offset": -569, "values": [0, 12.5, 25, 37.5, 50, 62.5, 75, 87.5, 100], "grid": true, "domain": true, "ticks": false, "labelPadding": -4, "labelAlign": "left", "labelBaseline": "middle", "labelOverlap": false, "labelBound": false,
   "labelExpr": "indexof([12.5,37.5,62.5,87.5], datum.value) >= 0 ? replace(format(datum.value, '.1f'), '.', ',') : ''", "title": null}}
 }}
]
},
{
"width": 631, "height": 115,
"data": {"name": "s"},
"title": {"text": "Aroon Up/Down (25)", "offset": -1},
"layer": [
{"mark": {"type": "line", "color": "#e00000", "strokeWidth": 1},
 "encoding": {
 "x": {"field": "d", "type": "temporal",
  "scale": {"type": "utc", "domain": [{"year":2012,"month":10,"date":19,"hours":3,"utc":true},{"year":2013,"month":4,"date":21,"utc":true}], "range": [15, 569], "nice": false},
  "axis": {"orient": "top", "values": [{"year":2012,"month":11,"date":1,"utc":true},{"year":2012,"month":12,"date":1,"utc":true},{"year":2013,"month":1,"date":1,"utc":true},{"year":2013,"month":2,"date":1,"utc":true},{"year":2013,"month":3,"date":1,"utc":true},{"year":2013,"month":4,"date":1,"utc":true}], "grid": true, "labels": false, "ticks": false, "domain": false,
   "title": "19.04.2013 21:57 Uhr", "titleX": 10, "titleY": 106, "titleAlign": "left", "titleAnchor": "start", "titleBaseline": "middle", "titleAngle": 0, "titleFontSize": 11.5, "titleFontWeight": "normal", "titleColor": "#a8a8a8", "titleFont": "Liberation Sans"}},
 "y": {"field": "ad", "type": "quantitative",
  "scale": {"domain": [-7.3, 104.6], "range": [98.7, 32.7], "nice": false, "zero": false},
  "axis": {"orient": "left", "offset": -569, "values": [-7.3, 0, 20, 40, 60, 80, 100], "grid": true, "domain": true, "ticks": false, "labelPadding": -4, "labelAlign": "left", "labelBaseline": "middle", "labelFontSize": 12, "labelOverlap": false, "labelBound": false,
   "labelExpr": "datum.value >= 0 ? format(datum.value, 'd') : ''", "title": null}}
 }},
{"mark": {"type": "line", "color": "#33a000", "strokeWidth": 1},
 "encoding": {
 "x": {"field": "d", "type": "temporal",
  "scale": {"type": "utc", "domain": [{"year":2012,"month":10,"date":19,"hours":3,"utc":true},{"year":2013,"month":4,"date":21,"utc":true}], "range": [15, 569], "nice": false},
  "axis": {"orient": "top", "values": [{"year":2012,"month":11,"date":1,"utc":true},{"year":2012,"month":12,"date":1,"utc":true},{"year":2013,"month":1,"date":1,"utc":true},{"year":2013,"month":2,"date":1,"utc":true},{"year":2013,"month":3,"date":1,"utc":true},{"year":2013,"month":4,"date":1,"utc":true}], "grid": true, "labels": false, "ticks": false, "domain": false,
   "title": "19.04.2013 21:57 Uhr", "titleX": 10, "titleY": 106, "titleAlign": "left", "titleAnchor": "start", "titleBaseline": "middle", "titleAngle": 0, "titleFontSize": 11.5, "titleFontWeight": "normal", "titleColor": "#a8a8a8", "titleFont": "Liberation Sans"}},
 "y": {"field": "au", "type": "quantitative",
  "scale": {"domain": [-7.3, 104.6], "range": [98.7, 32.7], "nice": false, "zero": false},
  "axis": {"orient": "left", "offset": -569, "values": [-7.3, 0, 20, 40, 60, 80, 100], "grid": true, "domain": true, "ticks": false, "labelPadding": -4, "labelAlign": "left", "labelBaseline": "middle", "labelFontSize": 12, "labelOverlap": false, "labelBound": false,
   "labelExpr": "datum.value >= 0 ? format(datum.value, 'd') : ''", "title": null}}
 }}
]
}
]
}
